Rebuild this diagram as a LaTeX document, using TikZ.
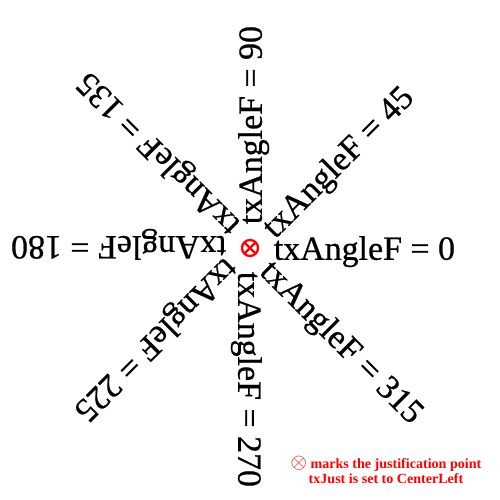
\documentclass[tikz,border=0pt]{standalone}
\usepackage{fontspec}
\setmainfont{Liberation Serif}
\newfontfamily\heavyserif[FakeBold=0.6]{Liberation Serif}
\tikzset{
  anglelabel/.style={anchor=west,inner sep=0pt,text depth=0pt,font=\heavyserif\fontsize{19.3}{21}\selectfont},
  justmark/.style={draw=red,line width=1.3pt},
  notetext/.style={text=red,align=center,font=\fontsize{8}{9}\selectfont\bfseries}
}
\begin{document}
\begin{tikzpicture}
  \useasboundingbox (0,0) rectangle (10,10);
  \coordinate (jp) at (5.0,5.04);
  \foreach \a in {0,45,...,315}
    \node[anglelabel,rotate=\a] (lbl\a) at ([shift={(\a:0.47)}]jp) {txAngleF = \a};
  \draw[justmark] (jp) circle (0.16);
  \draw[justmark] ([shift={(45:0.16)}]jp) -- ([shift={(225:0.16)}]jp);
  \draw[justmark] ([shift={(135:0.16)}]jp) -- ([shift={(315:0.16)}]jp);
  \node[notetext] (note) at (7.72,0.6) {{\large$\otimes$} marks the justification point\\txJust is set to CenterLeft};
\end{tikzpicture}
\end{document}
